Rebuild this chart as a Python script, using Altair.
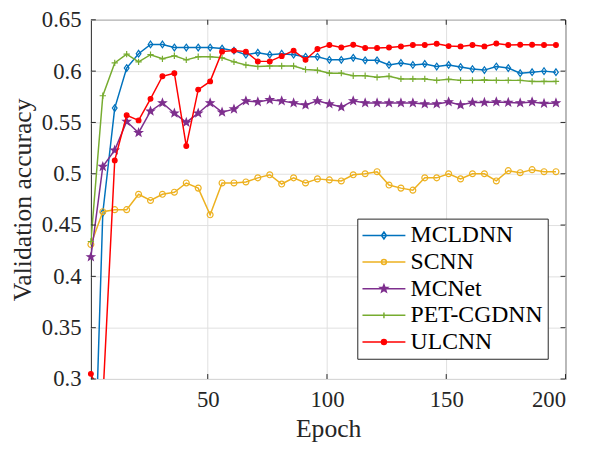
import math
import pandas as pd
import altair as alt

# ---------------- data ----------------
models = ["MCLDNN", "SCNN", "MCNet", "PET-CGDNN", "ULCNN"]
colors = ["#0072BD", "#EDB120", "#7E2F8E", "#77AC30", "#FF0000"]
fills = ["transparent", "transparent", "#7E2F8E", "transparent", "#FF0000"]

epochs = [1, 6, 11, 16, 21, 26, 31, 36, 41, 46,
          51, 56, 61, 66, 71, 76, 81, 86, 91, 96,
          101, 106, 111, 116, 121, 126, 131, 136, 141, 146,
          151, 156, 161, 166, 171, 176, 181, 186, 191, 196]

mcldnn = [0.09, 0.462, 0.564, 0.603, 0.617, 0.626, 0.626, 0.623, 0.623, 0.623,
          0.623, 0.622, 0.620, 0.616, 0.618, 0.616, 0.617, 0.616, 0.614, 0.614,
          0.611, 0.611, 0.613, 0.6105, 0.6105, 0.606, 0.608, 0.606, 0.607, 0.6045,
          0.606, 0.604, 0.602, 0.601, 0.6045, 0.603, 0.598, 0.599, 0.600, 0.599]
scnn = [0.431, 0.463, 0.465, 0.465, 0.480, 0.474, 0.480, 0.482, 0.491, 0.486,
        0.460, 0.491, 0.491, 0.492, 0.496, 0.499, 0.490, 0.496, 0.491, 0.495,
        0.494, 0.493, 0.499, 0.500, 0.502, 0.489, 0.486, 0.484, 0.496, 0.496,
        0.500, 0.495, 0.500, 0.500, 0.493, 0.503, 0.501, 0.504, 0.502, 0.502]
mcnet = [0.419, 0.507, 0.523, 0.551, 0.540, 0.561, 0.569, 0.559, 0.550, 0.559,
         0.569, 0.560, 0.563, 0.571, 0.570, 0.572, 0.571, 0.569, 0.567, 0.571,
         0.568, 0.565, 0.571, 0.569, 0.569, 0.569, 0.569, 0.569, 0.568, 0.568,
         0.570, 0.567, 0.5695, 0.5695, 0.570, 0.5695, 0.569, 0.570, 0.5685, 0.569]
petcgdnn = [0.434, 0.576, 0.608, 0.6165, 0.609, 0.616, 0.612, 0.615, 0.611, 0.614,
            0.614, 0.613, 0.609, 0.606, 0.6045, 0.605, 0.605, 0.605, 0.6016, 0.6008,
            0.598, 0.598, 0.5955, 0.5955, 0.594, 0.595, 0.5924, 0.5924, 0.5924, 0.591,
            0.592, 0.591, 0.591, 0.5914, 0.591, 0.591, 0.591, 0.590, 0.590, 0.590]
ulcnn = [0.305, 0.28, 0.513, 0.557, 0.552, 0.573, 0.595, 0.598, 0.527, 0.582,
         0.590, 0.619, 0.620, 0.619, 0.6095, 0.6095, 0.6146, 0.620, 0.611, 0.6215,
         0.6254, 0.623, 0.6257, 0.6225, 0.6225, 0.623, 0.624, 0.6254, 0.6254, 0.6267,
         0.6244, 0.6241, 0.6254, 0.6241, 0.627, 0.6254, 0.6257, 0.6257, 0.6254, 0.6254]
series = [mcldnn, scnn, mcnet, petcgdnn, ulcnn]

x_ticks = [50, 100, 150, 200]
y_ticks = [0.3, 0.35, 0.4, 0.45, 0.5, 0.55, 0.6, 0.65]

# ---------------- styling ----------------
W, H = 481, 364
FONT = "Liberation Serif"
AX = "#262626"
TICK = 5


def star(R, r):
    pts = []
    for i in range(10):
        ang = -math.pi / 2 + i * math.pi / 5
        rad = R if i % 2 == 0 else r
        pts.append(f"{rad * math.cos(ang):.3f},{rad * math.sin(ang):.3f}")
    return "M" + "L".join(pts) + "Z"


def circ(rr):
    return f"M{-rr},0A{rr},{rr},0,1,0,{rr},0A{rr},{rr},0,1,0,{-rr},0Z"


# plot markers (size 64 -> 4px per unit)
plot_marks = [
    "M0,-0.85L0.6,0L0,0.85L-0.6,0Z",
    circ(0.75),
    star(1.0, 0.42),
    "M-0.8,0H0.8M0,-0.8V0.8",
    circ(0.6),
]
# legend symbols (size 100 -> 5px per unit): line + marker
LINE = "M-4.35,0H4.35"
legend_paths = [
    LINE + "M0,-0.7L0.5,0L0,0.7L-0.5,0Z",
    LINE + circ(0.5),
    LINE + star(0.8, 0.34),
    LINE + "M-0.6,0H0.6M0,-0.6V0.6",
    LINE + circ(0.5),
]

rows = []
for m, vals in zip(models, series):
    for e, v in zip(epochs, vals):
        rows.append({"epoch": e, "acc": v, "model": m})
df = pd.DataFrame(rows)

xscale = alt.Scale(domain=[1, 200], nice=False, zero=False)
yscale = alt.Scale(domain=[0.3, 0.65], nice=False, zero=False)
stroke_scale = alt.Scale(domain=models, range=colors)
fill_scale = alt.Scale(domain=models, range=fills)
shape_scale = alt.Scale(domain=models, range=legend_paths)

xaxis = alt.Axis(values=x_ticks, title="Epoch", grid=True, gridColor="#DFDFDF",
                 ticks=False, tickSize=0, domain=False, labelFont=FONT,
                 labelFontSize=23, labelColor=AX, labelPadding=10,
                 titleFont=FONT, titleFontSize=26, titleFontWeight="normal",
                 titleColor=AX, titlePadding=4)
yaxis = alt.Axis(values=y_ticks, title="Validation accuracy", grid=True,
                 gridColor="#DFDFDF", ticks=False, tickSize=0, domain=False,
                 format=".2~f", labelFont=FONT, labelFontSize=23, labelColor=AX,
                 labelPadding=10, titleFont=FONT, titleFontSize=26,
                 titleFontWeight="normal", titleColor=AX, titlePadding=6)

X = alt.X("epoch:Q", scale=xscale, axis=xaxis)
Y = alt.Y("acc:Q", scale=yscale, axis=yaxis)

layers = []
for m, c, f, shp in zip(models, colors, fills, plot_marks):
    line = alt.Chart(df).transform_filter(alt.datum.model == m).mark_line(
        strokeWidth=1.5, clip=True, stroke=c
    ).encode(x=X, y=Y)
    pts = alt.Chart(df).transform_filter(alt.datum.model == m).transform_filter(
        alt.datum.acc >= 0.3
    ).mark_point(shape=shp, size=64, strokeWidth=1.2, opacity=1, filled=False,
                 fill=f, stroke=c).encode(x=X, y=Y)
    layers += [line, pts]

leg = alt.Legend(orient="none", legendX=270, legendY=201.5, title=None,
                 labelFont=FONT, labelFontSize=24, labelColor="black",
                 symbolSize=100, symbolStrokeWidth=1.5, symbolOffset=10,
                 labelOffset=15, rowPadding=3.0, padding=5,
                 strokeColor=AX, fillColor="white", cornerRadius=0)

legend_layer = alt.Chart(df).transform_filter(alt.datum.epoch == 1).mark_point(
    clip=True, opacity=1, filled=False, size=100, strokeWidth=1.5
).encode(
    x=alt.value(-500), y=alt.value(-500),
    stroke=alt.Stroke("model:N", scale=stroke_scale, legend=leg),
    fill=alt.Fill("model:N", scale=fill_scale, legend=leg),
    shape=alt.Shape("model:N", scale=shape_scale, legend=leg),
)

# inside tick marks on all four sides
xt = pd.DataFrame({"epoch": x_ticks})
yt = pd.DataFrame({"acc": y_ticks})
tick_layers = [
    alt.Chart(xt).mark_rule(color=AX, strokeWidth=1).encode(
        x=X, y=alt.value(H), y2=alt.value(H - TICK)),
    alt.Chart(xt).mark_rule(color=AX, strokeWidth=1).encode(
        x=X, y=alt.value(0), y2=alt.value(TICK)),
    alt.Chart(yt).mark_rule(color=AX, strokeWidth=1).encode(
        y=Y, x=alt.value(0), x2=alt.value(TICK)),
    alt.Chart(yt).mark_rule(color=AX, strokeWidth=1).encode(
        y=Y, x=alt.value(W - TICK), x2=alt.value(W)),
]

chart = alt.layer(*layers, legend_layer, *tick_layers).properties(
    width=W, height=H,
    autosize=alt.AutoSizeParams(type="none"),
    padding={"left": 84, "top": 9, "right": 37, "bottom": 70},
).configure_view(stroke=AX, strokeWidth=1)

chart.save("out.html", embed_options={"renderer": "svg", "actions": False})
